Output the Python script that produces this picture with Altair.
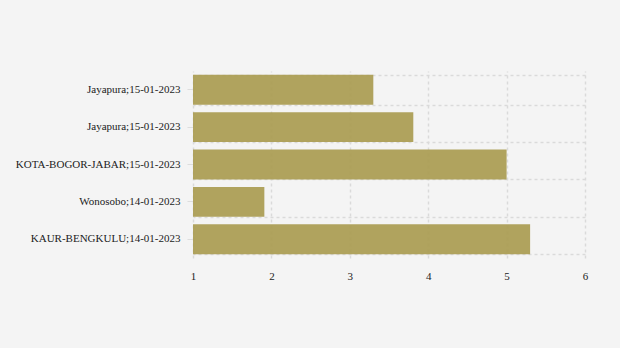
import altair as alt
import pandas as pd

labels = ["Jayapura;15-01-2023", "Jayapura;15-01-2023", "KOTA-BOGOR-JABAR;15-01-2023",
          "Wonosobo;14-01-2023", "KAUR-BENGKULU;14-01-2023"]
values = [3.3, 3.81, 5.0, 1.91, 5.3]
idx = list(range(len(labels)))

df = pd.DataFrame({"idx": idx, "label": labels, "value": values})

label_js = "[" + ",".join("'" + l + "'" for l in labels) + "]"

FONT = "Liberation Serif"
GRID = "#dadada"

yscale = alt.Scale(paddingInner=0.2, paddingOuter=0.1)

bars = alt.Chart(df).mark_bar(color="#aa9c52", opacity=0.93).encode(
    x=alt.X("value:Q", scale=alt.Scale(domain=[1, 6], zero=False, nice=False),
            axis=alt.Axis(values=[1, 2, 3, 4, 5, 6], format="d", grid=True, gridDash=[3, 3],
                          gridColor=GRID, gridWidth=1.5, ticks=False, domain=False,
                          labelFlush=False, labelPadding=12, title=None)),
    x2=alt.datum(1),
    y=alt.Y("idx:O", scale=yscale,
            axis=alt.Axis(labelExpr=label_js + "[datum.value]", grid=False, domain=False,
                          ticks=True, tickColor="#dddddd", tickSize=6, labelPadding=7,
                          title=None)),
)

gridlayer = alt.Chart(df).mark_bar(opacity=0).encode(
    y=alt.Y("idx:O", scale=yscale,
            axis=alt.Axis(orient="right", labels=False, ticks=False, domain=False, grid=True,
                          tickBand="extent", gridDash=[3, 3], gridColor=GRID, gridWidth=1.5,
                          title=None)),
)

chart = alt.layer(bars, gridlayer).resolve_axis(y="independent").properties(
    width=392, height=187,
    background="#f4f4f4",
    autosize=alt.AutoSizeParams(type="none"),
    padding={"left": 193, "top": 71, "right": 35, "bottom": 90},
).configure_view(strokeWidth=0).configure_axis(
    labelFont=FONT, labelFontSize=11, labelColor="#222222"
)

chart.save("out.html", embed_options={"renderer": "svg", "actions": False})
